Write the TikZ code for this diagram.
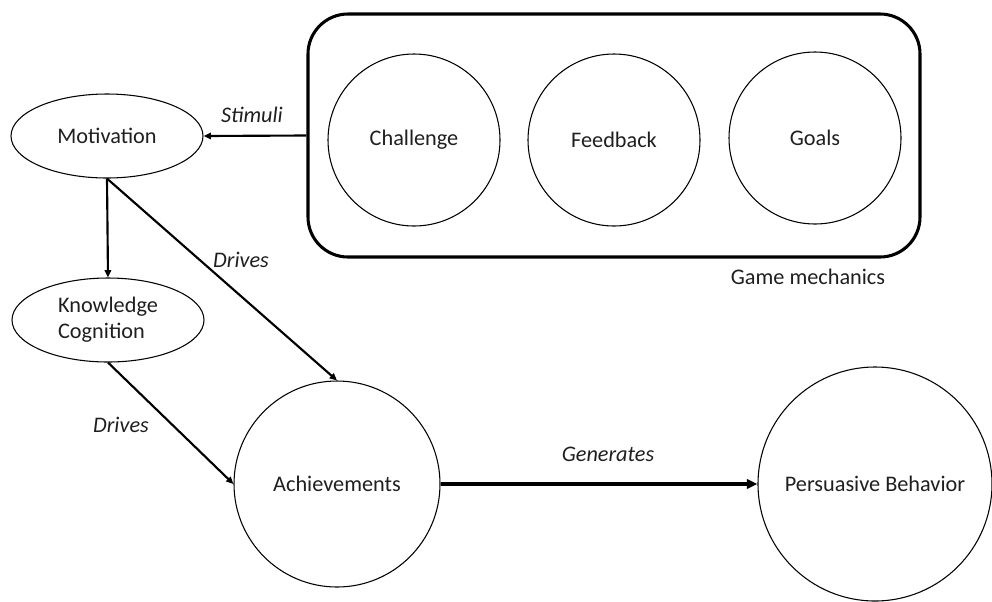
\documentclass[tikz,border=0pt]{standalone}
\usepackage{fontspec}
\setmainfont{Carlito}
\usetikzlibrary{shapes.geometric,arrows.meta}
\begin{document}
\begin{tikzpicture}[x=0.75pt,y=-0.75pt,
  every node/.style={font=\fontsize{16.7}{19.5}\selectfont, text=black!88},
  ell/.style={draw,ellipse,line width=0.8pt,inner sep=0pt,minimum width=144pt,minimum height=63pt,align=center},
  circ/.style={draw,circle,line width=0.8pt,inner sep=0pt,align=center},
  conn/.style={line width=1.6pt,-{Triangle[length=5.5pt,width=4.8pt]}},
  bigconn/.style={line width=2.5pt,-{Triangle[length=8pt,width=7pt]}},
  lab/.style={font=\fontsize{16.7}{19.5}\selectfont\itshape},
  group/.style={draw,rounded corners=30pt,line width=2.3pt,inner sep=0pt,minimum width=459pt,minimum height=182.25pt},
]
\useasboundingbox (0,0) rectangle (992,601);
\node[group] (gm) at (614,135.5) {};
\node[circ,minimum size=129pt] (ch) at (414,140) {Challenge};
\node[circ,minimum size=129pt] (fb) at (614,140) {Feedback};
\node[circ,minimum size=129pt] (go) at (815,138) {Goals};
\node (gml) at (808,277) {Game mechanics};
\node[ell] (mot) at (107,136) {Motivation};
\node[ell,align=left] (kc) at (108,320) {Knowledge\\Cognition};
\node[circ,minimum size=154.5pt] (ach) at (337,484) {Achievements};
\node[circ,minimum size=175.5pt] (pb) at (875,484) {Persuasive Behavior};

\draw[conn] (gm.west) -- (mot.east);
\draw[conn] (mot.south) -- (kc.north);
\draw[conn] (mot.south) -- (ach.north);
\draw[conn] (kc.south) -- (ach.west);
\draw[bigconn] (ach.east) -- (pb.west);

\node[lab] (sl) at (252,115) {Stimuli};
\node[lab] (d1) at (241,260) {Drives};
\node[lab] (d2) at (121,425) {Drives};
\node[lab] (gl) at (608,454) {Generates};
\end{tikzpicture}
\end{document}
